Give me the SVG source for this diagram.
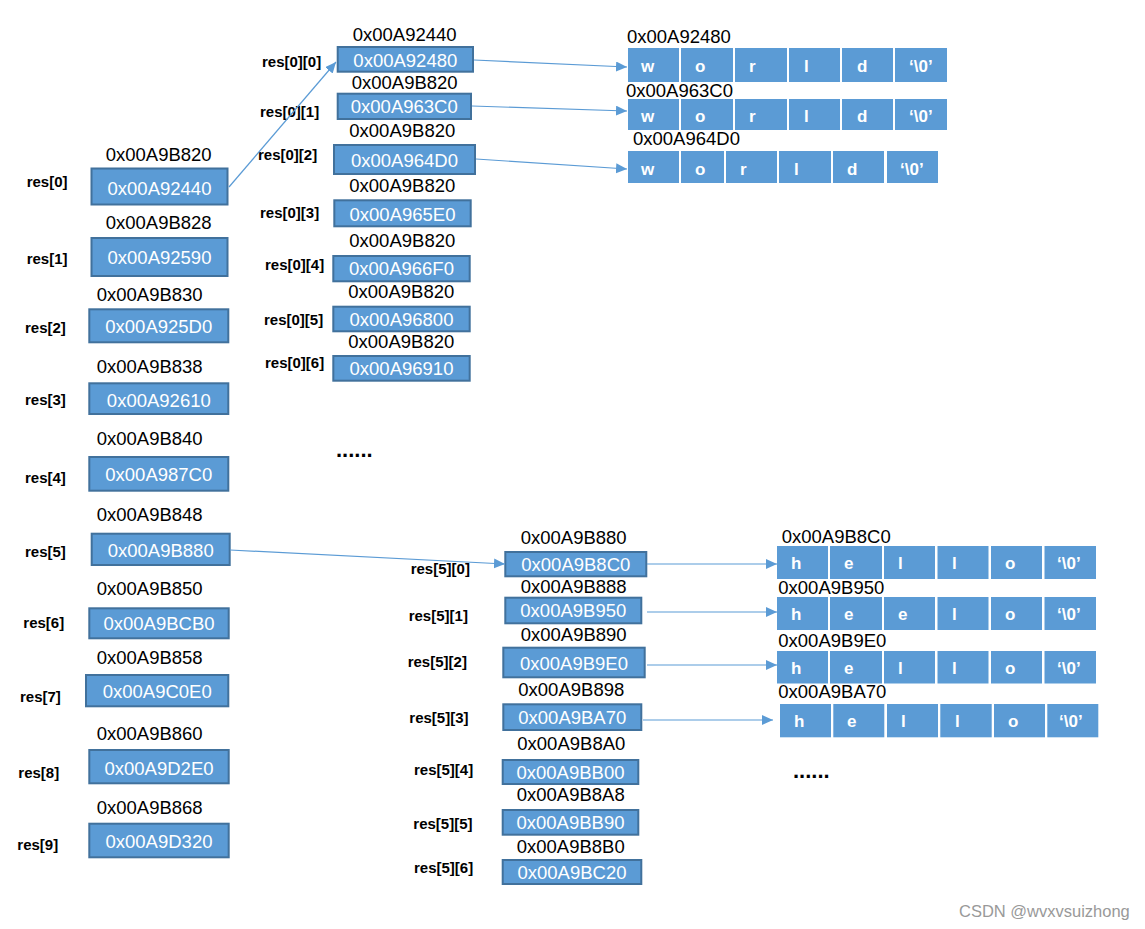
<svg xmlns="http://www.w3.org/2000/svg" width="1145" height="929" viewBox="0 0 1145 929">
<defs>
<style>
.box{fill:#5B9BD5;stroke:#41719C;stroke-width:2}
.bt{fill:#fff;font-family:"Liberation Sans",Arial,sans-serif;font-size:18.5px;text-anchor:middle}
.ad{fill:#000;font-family:"Liberation Sans",Arial,sans-serif;font-size:18.5px}
.ix{fill:#000;font-family:"Liberation Sans",Arial,sans-serif;font-size:15px;font-weight:bold}
.cell{fill:#5B9BD5}
.ct{fill:#fff;font-family:"Liberation Sans",Arial,sans-serif;font-size:17px;font-weight:bold}
.conn{stroke:#5B9BD5;stroke-width:1.2;fill:none;marker-end:url(#ah)}
.dots{fill:#000;font-family:"Liberation Sans",Arial,sans-serif;font-size:22px;font-weight:bold}
.wm{fill:#999;font-family:"Liberation Sans",Arial,sans-serif;font-size:16.5px}
</style>
<marker id="ah" markerUnits="userSpaceOnUse" markerWidth="12" markerHeight="11" refX="11" refY="5" orient="auto">
<path d="M0,0 L11,5 L0,10 Z" fill="#5B9BD5"/>
</marker>
</defs>

<!-- left column: res[i] -->
<g id="res0"><text class="ad" x="105.7" y="161">0x00A9B820</text><rect class="box" x="91.5" y="168.5" width="136" height="36"/><text class="bt" x="159.5" y="195">0x00A92440</text><text class="ix" x="26.7" y="187">res[0]</text></g>
<g id="res1"><text class="ad" x="105.7" y="229">0x00A9B828</text><rect class="box" x="91.5" y="238" width="136" height="38"/><text class="bt" x="159.5" y="263.5">0x00A92590</text><text class="ix" x="26.7" y="264">res[1]</text></g>
<g id="res2"><text class="ad" x="96.7" y="300.7">0x00A9B830</text><rect class="box" x="89.3" y="309.3" width="139" height="33"/><text class="bt" x="158.8" y="333">0x00A925D0</text><text class="ix" x="25" y="332.7">res[2]</text></g>
<g id="res3"><text class="ad" x="96.7" y="373.3">0x00A9B838</text><rect class="box" x="89.3" y="383.3" width="139" height="30.7"/><text class="bt" x="158.8" y="406.5">0x00A92610</text><text class="ix" x="25" y="405">res[3]</text></g>
<g id="res4"><text class="ad" x="96.7" y="445">0x00A9B840</text><rect class="box" x="89.3" y="457" width="139" height="33.7"/><text class="bt" x="158.8" y="481">0x00A987C0</text><text class="ix" x="25" y="482.7">res[4]</text></g>
<g id="res5"><text class="ad" x="96.7" y="520.7">0x00A9B848</text><rect class="box" x="91.7" y="533.7" width="138" height="31.3"/><text class="bt" x="160.7" y="557">0x00A9B880</text><text class="ix" x="25" y="556.7">res[5]</text></g>
<g id="res6"><text class="ad" x="96.7" y="595">0x00A9B850</text><rect class="box" x="89.3" y="608.3" width="139.4" height="30"/><text class="bt" x="159" y="630">0x00A9BCB0</text><text class="ix" x="23.3" y="628.3">res[6]</text></g>
<g id="res7"><text class="ad" x="96.7" y="664">0x00A9B858</text><rect class="box" x="86" y="675" width="142.3" height="31.3"/><text class="bt" x="157.2" y="697.5">0x00A9C0E0</text><text class="ix" x="20" y="702">res[7]</text></g>
<g id="res8"><text class="ad" x="96.7" y="740">0x00A9B860</text><rect class="box" x="89.3" y="750" width="139.4" height="33.3"/><text class="bt" x="159" y="775">0x00A9D2E0</text><text class="ix" x="18.3" y="778.3">res[8]</text></g>
<g id="res9"><text class="ad" x="96.7" y="814">0x00A9B868</text><rect class="box" x="89.3" y="823.7" width="139.4" height="33.6"/><text class="bt" x="159" y="847.7">0x00A9D320</text><text class="ix" x="17.3" y="850">res[9]</text></g>

<!-- res[0][k] -->
<g id="res0_0"><text class="ad" x="352.7" y="40.7">0x00A92440</text><rect class="box" x="337.7" y="47" width="135.3" height="24.7"/><text class="bt" x="405.3" y="66.5">0x00A92480</text><text class="ix" x="262" y="67">res[0][0]</text></g>
<g id="res0_1"><text class="ad" x="351.7" y="89">0x00A9B820</text><rect class="box" x="337.7" y="93.7" width="133.3" height="25.3"/><text class="bt" x="404.3" y="113">0x00A963C0</text><text class="ix" x="260" y="116.7">res[0][1]</text></g>
<g id="res0_2"><text class="ad" x="349.3" y="136.7">0x00A9B820</text><rect class="box" x="334" y="145" width="141" height="29"/><text class="bt" x="404.5" y="166.5">0x00A964D0</text><text class="ix" x="258" y="160">res[0][2]</text></g>
<g id="res0_3"><text class="ad" x="349.3" y="192.3">0x00A9B820</text><rect class="box" x="334.3" y="200.3" width="136.4" height="26"/><text class="bt" x="402.5" y="220.5">0x00A965E0</text><text class="ix" x="260" y="217.7">res[0][3]</text></g>
<g id="res0_4"><text class="ad" x="349.3" y="247.3">0x00A9B820</text><rect class="box" x="333.3" y="256" width="136.4" height="25.3"/><text class="bt" x="401.5" y="275">0x00A966F0</text><text class="ix" x="265" y="270">res[0][4]</text></g>
<g id="res0_5"><text class="ad" x="348.3" y="297.7">0x00A9B820</text><rect class="box" x="333.3" y="306.7" width="136.4" height="24.6"/><text class="bt" x="401.5" y="326">0x00A96800</text><text class="ix" x="264" y="325">res[0][5]</text></g>
<g id="res0_6"><text class="ad" x="348.3" y="348.3">0x00A9B820</text><rect class="box" x="333.3" y="356" width="136.4" height="24.7"/><text class="bt" x="401.5" y="375">0x00A96910</text><text class="ix" x="265" y="367.7">res[0][6]</text></g>
<text class="dots" x="336" y="457">......</text>

<!-- res[5][k] -->
<g id="res5_0"><text class="ad" x="520.7" y="544">0x00A9B880</text><rect class="box" x="505.3" y="552" width="141" height="24.3"/><text class="bt" x="575.8" y="571">0x00A9B8C0</text><text class="ix" x="410.7" y="574">res[5][0]</text></g>
<g id="res5_1"><text class="ad" x="520.7" y="593">0x00A9B888</text><rect class="box" x="505.3" y="597.7" width="136" height="25.6"/><text class="bt" x="573.3" y="617">0x00A9B950</text><text class="ix" x="408.7" y="621">res[5][1]</text></g>
<g id="res5_2"><text class="ad" x="520.7" y="640.7">0x00A9B890</text><rect class="box" x="503.3" y="647.7" width="141.4" height="29.6"/><text class="bt" x="574" y="669.5">0x00A9B9E0</text><text class="ix" x="407.7" y="666.7">res[5][2]</text></g>
<g id="res5_3"><text class="ad" x="518.3" y="696">0x00A9B898</text><rect class="box" x="503.3" y="704.3" width="138" height="25.7"/><text class="bt" x="572.3" y="724">0x00A9BA70</text><text class="ix" x="409.3" y="723.3">res[5][3]</text></g>
<g id="res5_4"><text class="ad" x="517.3" y="750">0x00A9B8A0</text><rect class="box" x="502.7" y="760" width="135.6" height="24"/><text class="bt" x="570.5" y="779">0x00A9BB00</text><text class="ix" x="414" y="775">res[5][4]</text></g>
<g id="res5_5"><text class="ad" x="516.7" y="801">0x00A9B8A8</text><rect class="box" x="502.7" y="810" width="135.6" height="24.7"/><text class="bt" x="570.5" y="829">0x00A9BB90</text><text class="ix" x="413.3" y="829.3">res[5][5]</text></g>
<g id="res5_6"><text class="ad" x="516.7" y="853.3">0x00A9B8B0</text><rect class="box" x="502.7" y="860" width="138.6" height="24"/><text class="bt" x="572" y="879">0x00A9BC20</text><text class="ix" x="414" y="872.7">res[5][6]</text></g>
<text class="dots" x="793" y="778">......</text>

<!-- world arrays -->
<g id="arr_world0"><text class="ad" x="627" y="43.3">0x00A92480</text>
<rect class="cell" x="628" y="48" width="51" height="34"/><rect class="cell" x="681" y="48" width="52" height="34"/><rect class="cell" x="735" y="48" width="52" height="34"/><rect class="cell" x="789" y="48" width="51" height="34"/><rect class="cell" x="842" y="48" width="51" height="34"/><rect class="cell" x="895" y="48" width="52" height="34"/>
<text class="ct" x="641" y="72">w</text><text class="ct" x="695" y="72">o</text><text class="ct" x="749" y="72">r</text><text class="ct" x="804" y="72">l</text><text class="ct" x="857" y="72">d</text><text class="ct" x="909" y="72">‘\0’</text></g>
<g id="arr_world1"><text class="ad" x="626" y="96.7">0x00A963C0</text>
<rect class="cell" x="628" y="99" width="51" height="31"/><rect class="cell" x="681" y="99" width="52" height="31"/><rect class="cell" x="735" y="99" width="52" height="31"/><rect class="cell" x="789" y="99" width="51" height="31"/><rect class="cell" x="842" y="99" width="51" height="31"/><rect class="cell" x="895" y="99" width="52" height="31"/>
<text class="ct" x="641" y="122">w</text><text class="ct" x="695" y="122">o</text><text class="ct" x="749" y="122">r</text><text class="ct" x="804" y="122">l</text><text class="ct" x="857" y="122">d</text><text class="ct" x="909" y="122">‘\0’</text></g>
<g id="arr_world2"><text class="ad" x="633" y="145">0x00A964D0</text>
<rect class="cell" x="628" y="151" width="51" height="32"/><rect class="cell" x="681" y="151" width="43" height="32"/><rect class="cell" x="726" y="151" width="51" height="32"/><rect class="cell" x="779" y="151" width="52" height="32"/><rect class="cell" x="833" y="151" width="51" height="32"/><rect class="cell" x="887" y="151" width="51" height="32"/>
<text class="ct" x="641" y="175">w</text><text class="ct" x="695" y="175">o</text><text class="ct" x="740" y="175">r</text><text class="ct" x="794" y="175">l</text><text class="ct" x="847" y="175">d</text><text class="ct" x="900" y="175">‘\0’</text></g>

<!-- hello arrays -->
<g id="arr_hello0"><text class="ad" x="781.7" y="542.7">0x00A9B8C0</text>
<rect class="cell" x="777" y="546" width="51" height="33"/><rect class="cell" x="830" y="546" width="52" height="33"/><rect class="cell" x="884" y="546" width="51" height="33"/><rect class="cell" x="937.5" y="546" width="51" height="33"/><rect class="cell" x="991" y="546" width="51" height="33"/><rect class="cell" x="1044.5" y="546" width="51.5" height="33"/>
<text class="ct" x="791" y="569">h</text><text class="ct" x="844" y="569">e</text><text class="ct" x="898" y="569">l</text><text class="ct" x="952" y="569">l</text><text class="ct" x="1005" y="569">o</text><text class="ct" x="1057" y="569">‘\0’</text></g>
<g id="arr_hello1"><text class="ad" x="778.3" y="594">0x00A9B950</text>
<rect class="cell" x="777" y="597" width="51" height="33"/><rect class="cell" x="830" y="597" width="52" height="33"/><rect class="cell" x="884" y="597" width="51" height="33"/><rect class="cell" x="937.5" y="597" width="51" height="33"/><rect class="cell" x="991" y="597" width="51" height="33"/><rect class="cell" x="1044.5" y="597" width="51.5" height="33"/>
<text class="ct" x="791" y="620">h</text><text class="ct" x="844" y="620">e</text><text class="ct" x="898" y="620">e</text><text class="ct" x="952" y="620">l</text><text class="ct" x="1005" y="620">o</text><text class="ct" x="1057" y="620">‘\0’</text></g>
<g id="arr_hello2"><text class="ad" x="778.3" y="646.7">0x00A9B9E0</text>
<rect class="cell" x="777" y="651" width="51" height="32.5"/><rect class="cell" x="830" y="651" width="52" height="32.5"/><rect class="cell" x="884" y="651" width="51" height="32.5"/><rect class="cell" x="937.5" y="651" width="51" height="32.5"/><rect class="cell" x="991" y="651" width="51" height="32.5"/><rect class="cell" x="1044.5" y="651" width="51.5" height="32.5"/>
<text class="ct" x="791" y="673.5">h</text><text class="ct" x="844" y="673.5">e</text><text class="ct" x="898" y="673.5">l</text><text class="ct" x="952" y="673.5">l</text><text class="ct" x="1005" y="673.5">o</text><text class="ct" x="1057" y="673.5">‘\0’</text></g>
<g id="arr_hello3"><text class="ad" x="778.3" y="698.3">0x00A9BA70</text>
<rect class="cell" x="780" y="704" width="51" height="33.3"/><rect class="cell" x="833.3" y="704" width="51" height="33.3"/><rect class="cell" x="887" y="704" width="51" height="33.3"/><rect class="cell" x="940.3" y="704" width="51.4" height="33.3"/><rect class="cell" x="994" y="704" width="51" height="33.3"/><rect class="cell" x="1047.3" y="704" width="51" height="33.3"/>
<text class="ct" x="794" y="727">h</text><text class="ct" x="847" y="727">e</text><text class="ct" x="901" y="727">l</text><text class="ct" x="955" y="727">l</text><text class="ct" x="1008" y="727">o</text><text class="ct" x="1059" y="727">‘\0’</text></g>

<!-- connectors -->
<g id="connectors">
<line class="conn" x1="229" y1="187" x2="336" y2="62"/>
<line class="conn" x1="474" y1="60" x2="627" y2="67"/>
<line class="conn" x1="472" y1="106" x2="627" y2="111"/>
<line class="conn" x1="476" y1="159" x2="627" y2="169"/>
<line class="conn" x1="230" y1="550" x2="505" y2="564"/>
<line class="conn" x1="647" y1="564" x2="777" y2="564"/>
<line class="conn" x1="647" y1="612" x2="777" y2="612"/>
<line class="conn" x1="647" y1="665" x2="777" y2="665"/>
<line class="conn" x1="643" y1="720" x2="773" y2="720"/>
</g>

<text class="wm" x="959" y="917">CSDN @wvxvsuizhong</text>
</svg>
